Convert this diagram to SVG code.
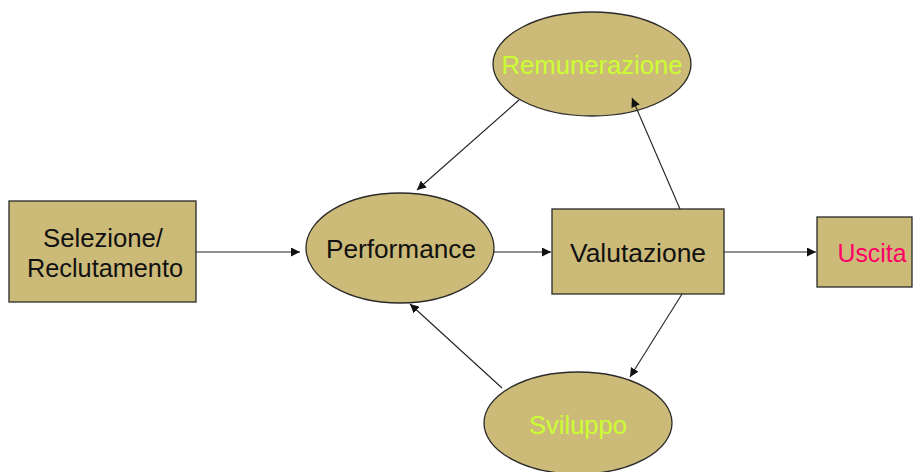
<svg xmlns="http://www.w3.org/2000/svg" width="915" height="472" viewBox="0 0 915 472">
<style>
.n{fill:#CCBA78;stroke:#2a2a2a;stroke-width:1.3}
.t{font-family:"Liberation Sans",Arial,sans-serif;font-size:25px;text-anchor:middle;fill:#111}
.g{fill:#CCFF33}
.r{fill:#FF0066}
.c{stroke:#222;stroke-width:1.1;fill:none;marker-end:url(#a)}
</style>
<defs>
<marker id="a" viewBox="0 0 10 10" refX="10" refY="5" markerWidth="9" markerHeight="9" markerUnits="userSpaceOnUse" orient="auto">
<path d="M0,0 L10,5 L0,10 z" fill="#111"/>
</marker>
</defs>
<rect width="915" height="472" fill="#fff"/>
<g id="selezione">
<rect class="n" x="9" y="201" width="187" height="101"/>
<text class="t" x="103" y="247" textLength="120" lengthAdjust="spacingAndGlyphs">Selezione/</text>
<text class="t" x="105" y="277" textLength="156" lengthAdjust="spacingAndGlyphs">Reclutamento</text>
</g>
<g id="performance">
<ellipse class="n" cx="400" cy="248" rx="94" ry="55"/>
<text class="t" x="401" y="258" textLength="150" lengthAdjust="spacingAndGlyphs">Performance</text>
</g>
<g id="valutazione">
<rect class="n" x="552" y="209" width="172" height="85"/>
<text class="t" x="638" y="262" textLength="136" lengthAdjust="spacingAndGlyphs">Valutazione</text>
</g>
<g id="uscita">
<rect class="n" x="817" y="217" width="95" height="70"/>
<text class="t r" x="872" y="262" textLength="69" lengthAdjust="spacingAndGlyphs">Uscita</text>
</g>
<g id="remunerazione">
<ellipse class="n" cx="592" cy="64" rx="99" ry="52"/>
<text class="t g" x="592" y="74" textLength="181" lengthAdjust="spacingAndGlyphs">Remunerazione</text>
</g>
<g id="sviluppo">
<ellipse class="n" cx="578" cy="423" rx="94" ry="51"/>
<text class="t g" x="578" y="434" textLength="98" lengthAdjust="spacingAndGlyphs">Sviluppo</text>
</g>
<g id="connectors">
<line class="c" x1="196" y1="252" x2="300" y2="252"/>
<line class="c" x1="493" y1="252" x2="551" y2="252"/>
<line class="c" x1="724" y1="252" x2="816" y2="252"/>
<line class="c" x1="519" y1="100" x2="417" y2="190"/>
<line class="c" x1="680" y1="209" x2="632" y2="98"/>
<line class="c" x1="682" y1="294" x2="630" y2="377"/>
<line class="c" x1="502" y1="388" x2="410" y2="304"/>
</g>
</svg>
